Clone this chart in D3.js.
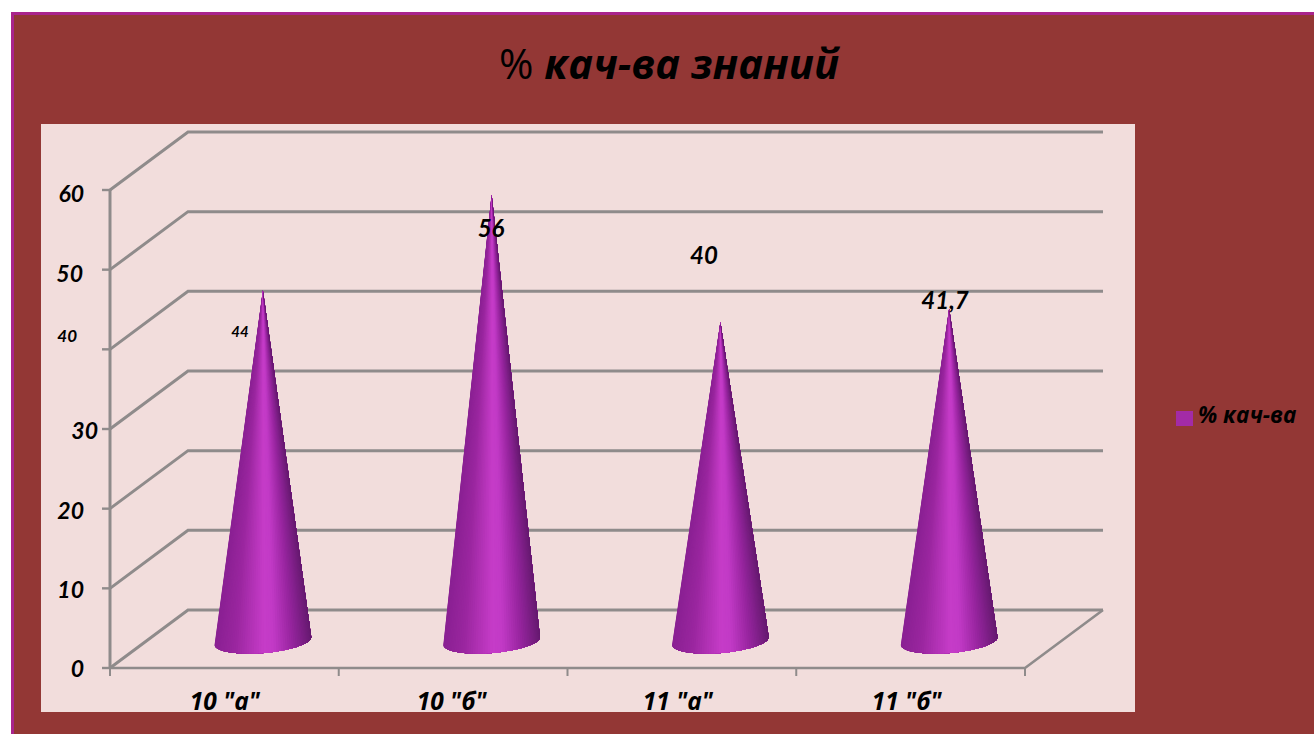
<!DOCTYPE html>
<html>
<head>
<meta charset="utf-8">
<script src="https://cdn.jsdelivr.net/npm/d3@7"></script>
<style>
html, body { margin: 0; padding: 0; background: #fff; }
svg { display: block; }
text { font-family: Lato, "Open Sans", "Noto Sans", sans-serif; fill: #000; }
text.wide { font-family: "Open Sans", "Noto Sans", sans-serif; }
</style>
</head>
<body>
<div class="chart"></div>
<script>
var categories = ['10 "а"', '10 "б"', '11 "а"', '11 "б"'];
var values = [44, 56, 40, 41.7];
var valueLabels = ["44", "56", "40", "41,7"];
var yTicks = [0, 10, 20, 30, 40, 50, 60];
var seriesName = "% кач-ва";
var titleText = "кач-ва знаний";

var svg = d3.select(".chart").append("svg").attr("width", 1314).attr("height", 734);

// maroon slide with the thin purple edge on top and left
svg.append("rect").attr("x", 11).attr("y", 12).attr("width", 1303).attr("height", 722).attr("fill", "#a9248c");
svg.append("rect").attr("x", 14).attr("y", 15).attr("width", 1300).attr("height", 719).attr("fill", "#933735");
svg.append("rect").attr("x", 41).attr("y", 124).attr("width", 1094).attr("height", 588).attr("fill", "#f2dddc");

//front plane of the 3d box
var x = d3.scaleBand().domain(categories).range([110, 1025]);
var y = d3.scaleLinear().domain([0, 60]).range([668, 190]);

//the back wall is the front plane moved by this much
var depthX = 78, depthY = -58;

var gridColor = "#8f8b8b";
var grid = svg.append("g").attr("stroke", gridColor).attr("fill", "none");

//side wall diagonals and back wall lines
yTicks.forEach(function(t) {
	grid.append("path").attr("stroke-width", 3)
		.attr("d", d3.line()([[x.range()[0], y(t)], [x.range()[0] + depthX, y(t) + depthY], [x.range()[1] + depthX, y(t) + depthY]]));
	grid.append("line").attr("stroke-width", 2.4)
		.attr("x1", x.range()[0] - 8).attr("x2", x.range()[0]).attr("y1", y(t)).attr("y2", y(t));
});

//floor edges
grid.append("path").attr("stroke-width", 2.6)
	.attr("d", d3.line()([[x.range()[0], y(0)], [x.range()[1], y(0)], [x.range()[1] + depthX, y(0) + depthY]]));
grid.append("line").attr("stroke-width", 3)
	.attr("x1", x.range()[0]).attr("x2", x.range()[0]).attr("y1", y(60)).attr("y2", y(0));

//ticks under the categories
categories.concat([null]).forEach(function(c) {
	var px = c === null ? x.range()[1] : x(c);
	grid.append("line").attr("stroke-width", 2)
		.attr("x1", px).attr("x2", px).attr("y1", y(0)).attr("y2", y(0) + 8);
});

var defs = svg.append("defs");

//cone shading runs around the cone, dark at both edges and light in the middle,
//so each cone is a fan of slices from the tip to the base rim
var shade = d3.scaleLinear()
	.domain([0, 0.2, 0.5, 0.6, 0.8, 1])
	.range(["#8a2093", "#9a269f", "#c63cc8", "#c23ac6", "#96249e", "#661a70"]);

var baseRx = 48.5, baseRy = 12, baseTilt = -4.8 * Math.PI / 180;
var baseShift = [depthX / 2 - 0.5, depthY / 2 + 2];
var sliceCount = 60;

function rimPoint(cx, cy, a) {
	var ex = baseRx * Math.cos(a), ey = baseRy * Math.sin(a);
	return [cx + ex * Math.cos(baseTilt) - ey * Math.sin(baseTilt), cy + ex * Math.sin(baseTilt) + ey * Math.cos(baseTilt)];
}

var cones = svg.append("g").selectAll("g")
	.data(categories)
	.enter().append("g");

cones.each(function(c, i) {
	var cx = x(c) + x.bandwidth() / 2 + baseShift[0];
	var cy = y(0) + baseShift[1];
	var tip = [cx, y(values[i]) + baseShift[1]];
	var g = d3.select(this);
	d3.range(sliceCount).forEach(function(k) {
		var a0 = Math.PI - Math.PI * k / sliceCount;
		var aMid = Math.PI - Math.PI * (k + 0.5) / sliceCount;
		//each slice runs on under the next one so no seams show
		var rim = d3.range(k, sliceCount + 1, 1).map(function(j) {
			return rimPoint(cx, cy, Math.PI - Math.PI * j / sliceCount);
		});
		g.append("path")
			.attr("fill", shade((1 + Math.cos(aMid)) / 2))
			.attr("d", d3.line()([tip].concat(rim)) + "Z");
	});
});

//axis labels, sitting unevenly like the pasted ones in the picture
var tickNudge = {0: [0, 9], 10: [0, 10], 20: [0, 10], 30: [14, 10], 40: [-7, -7], 50: [-1, 12], 60: [0, 12]};
svg.append("g").selectAll("text")
	.data(yTicks)
	.enter().append("text")
	.attr("text-anchor", "end")
	.attr("font-style", "italic").attr("font-weight", 700)
	.attr("font-size", function(t) { return t === 40 ? 17 : 23; })
	.attr("x", function(t) { return 84 + tickNudge[t][0]; })
	.attr("y", function(t) { return y(t) + tickNudge[t][1]; })
	.text(function(t) { return t; });

//category labels get cut by the bottom of the panel
var categoryNudge = [0.5, -1.5, -4, -4];
defs.append("clipPath").attr("id", "panel").append("rect")
	.attr("x", 41).attr("y", 124).attr("width", 1094).attr("height", 588);
svg.append("g").attr("clip-path", "url(#panel)").selectAll("text")
	.data(categories)
	.enter().append("text")
	.attr("class", "wide")
	.attr("text-anchor", "middle")
	.attr("font-style", "italic").attr("font-weight", 700).attr("font-size", 24.5)
	.attr("x", function(c, i) { return x(c) + x.bandwidth() / 2 + categoryNudge[i]; })
	.attr("y", 710)
	.text(function(c) { return c; });

//value labels were moved by hand in the original
var labelPos = [[240, 337, 15], [491, 237, 24], [704, 264, 24], [945, 309, 24]];
svg.append("g").selectAll("text")
	.data(valueLabels)
	.enter().append("text")
	.attr("text-anchor", "middle")
	.attr("font-style", "italic").attr("font-weight", 700)
	.attr("font-size", function(d, i) { return labelPos[i][2]; })
	.attr("x", function(d, i) { return labelPos[i][0]; })
	.attr("y", function(d, i) { return labelPos[i][1]; })
	.text(function(d) { return d; });

//title
var title = svg.append("text").attr("class", "wide").attr("x", 669).attr("y", 79).attr("text-anchor", "middle").attr("font-size", 41.7);
title.append("tspan").text("% ");
title.append("tspan").attr("font-style", "italic").attr("font-weight", 700).text(titleText);

//legend
svg.append("rect").attr("x", 1176).attr("y", 411).attr("width", 17).attr("height", 15).attr("fill", "#a32ba6");
svg.append("text").attr("class", "wide").attr("x", 1198).attr("y", 423)
	.attr("font-style", "italic").attr("font-weight", 700).attr("font-size", 22.5)
	.text(seriesName);
</script>
</body>
</html>
